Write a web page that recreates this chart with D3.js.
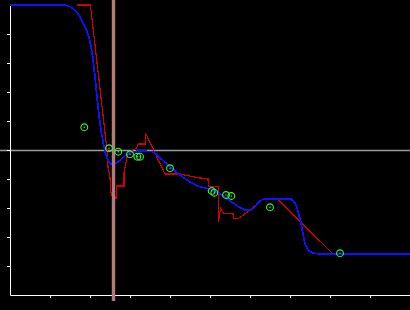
<!DOCTYPE html>
<html>
    <head>
        <meta charset="utf-8">
        <title>Fit vs data</title>
        <script src="https://d3js.org/d3.v7.min.js"></script>
        <style>
            body {
                margin: 0;
                background: #000;
            }
            svg {
                display: block;
                background: #000;
            }
        </style>
    </head>
    <body>
        <div id="main"></div>
        <script>
            // red trace (raw), x / y
            var redX = [1.675, 2.01, 2.425, 2.45, 2.5, 2.525, 2.575, 2.65, 2.667, 2.85, 2.85, 2.925, 2.95, 3.167, 3.2, 3.375, 3.4,
                3.875, 4.25, 4.75, 4.95, 4.9625, 5.2125, 5.2125, 5.2625, 5.325, 5.575, 5.5875, 5.7125, 6.0, 6.325, 6.675, 8.075, 8.25]
            var redY = [5.0, 5.0, 0, -0.586, -0.966, -1.483, -1.655, -1.655, -1.241, -1.241, -0.793, -0.241, -0.103, 0.069, 0.207, 0.207, 0.552,
                -0.828, -0.828, -0.966, -0.983, -1.266, -1.266, -2.483, -2.0, -2.172, -2.207, -2.362, -2.362, -2.069, -1.69, -1.679, -3.586, -3.586]

            // blue trace (smoothed)
            var blueX = [0, 1.325, 1.5, 1.667, 1.79, 1.875, 1.957, 2.042, 2.125, 2.183, 2.25, 2.333, 2.417, 2.542, 2.75, 2.875, 3.0, 3.167,
                3.542, 3.75, 4.0, 4.25, 4.5, 4.7, 5.0, 5.2, 5.575, 5.917, 6.0, 6.325, 6.667, 7.0, 7.125, 7.267, 7.375, 7.5, 7.75, 10]
            var blueY = [5, 5, 4.941, 4.759, 4.483, 4.241, 3.966, 3.448, 2.528, 1.724, 0.921, 0.231, -0.231, -0.483, -0.362, -0.19, -0.103, -0.045,
                -0.052, -0.276, -0.576, -0.862, -1.103, -1.241, -1.355, -1.472, -1.828, -2.069, -2.069, -1.7, -1.679, -1.69, -1.828, -2.472, -3.217, -3.507, -3.586, -3.586]

            // green samples
            var ptX = [1.857, 2.475, 2.707, 3.0, 3.183, 3.25, 4.0, 5.042, 5.107, 5.4, 5.533, 6.5, 8.25]
            var ptY = [0.783, 0.059, -0.059, -0.148, -0.231, -0.231, -0.631, -1.414, -1.472, -1.552, -1.586, -1.976, -3.562]

            // marker position (vertical bar)
            var markerX = 2.5875

            var xTicks = [1, 2, 3, 4, 5, 6, 7, 8, 9]
            var yTicks = [-4, -3, -2, -1, 0, 1, 2, 3, 4]

            var W = 410, H = 310

            var svg = d3.select("#main")
                .append("svg")
                .attr("width", W)
                .attr("height", H)

            var x = d3.scaleLinear().domain([0, 10]).range([10, 410])
            var y = d3.scaleLinear().domain([-5, 5]).range([295, 5])

            // zero line
            svg.append("line")
                .attr("x1", 0).attr("x2", W)
                .attr("y1", y(0) + 0.5).attr("y2", y(0) + 0.5)
                .attr("stroke", "#9a9a9a")
                .attr("stroke-width", 1.3)

            // axes
            var xAxis = svg.append("g")
                .attr("transform", "translate(0," + y(-5) + ")")
                .call(d3.axisBottom(x).tickValues(xTicks).tickFormat("").tickSize(3).tickSizeOuter(0))
            var yAxis = svg.append("g")
                .attr("transform", "translate(" + x(0) + ",0)")
                .call(d3.axisLeft(y).tickValues(yTicks).tickFormat("").tickSize(3).tickSizeOuter(0))
            svg.selectAll(".domain, .tick line")
                .attr("stroke", "#fff")
                .attr("stroke-width", 1)

            var redData = redX.map(function(d, i) { return [d, redY[i]] })
            var blueData = blueX.map(function(d, i) { return [d, blueY[i]] })

            var line = d3.line()
                .x(function(d) { return x(d[0]) })
                .y(function(d) { return y(d[1]) })

            svg.append("path")
                .datum(redData)
                .attr("d", line)
                .attr("fill", "none")
                .attr("stroke", "#cc0000")
                .attr("stroke-width", 1.2)
                .attr("shape-rendering", "crispEdges")

            svg.append("path")
                .datum(blueData)
                .attr("d", line.curve(d3.curveMonotoneX))
                .attr("fill", "none")
                .attr("stroke", "#1010ff")
                .attr("stroke-width", 1.8)
                .attr("shape-rendering", "crispEdges")

            // vertical marker bar
            svg.append("rect")
                .attr("x", x(markerX) - 1.7)
                .attr("y", 0)
                .attr("width", 3.4)
                .attr("height", 301)
                .attr("fill", "#b47a7a")

            // green points: ring + centre dot
            var pts = svg.selectAll(".pt")
                .data(ptX.map(function(d, i) { return [d, ptY[i]] }))
                .enter()
                .append("g")
                .attr("class", "pt")
                .attr("transform", function(d) { return "translate(" + x(d[0]) + "," + y(d[1]) + ")" })
            pts.append("circle")
                .attr("r", 3.4)
                .attr("fill", "none")
                .attr("stroke", "#2cff2c")
                .attr("stroke-width", 1.1)
            pts.append("circle")
                .attr("r", 0.7)
                .attr("fill", "#2cff2c")
        </script>
    </body>
</html>
